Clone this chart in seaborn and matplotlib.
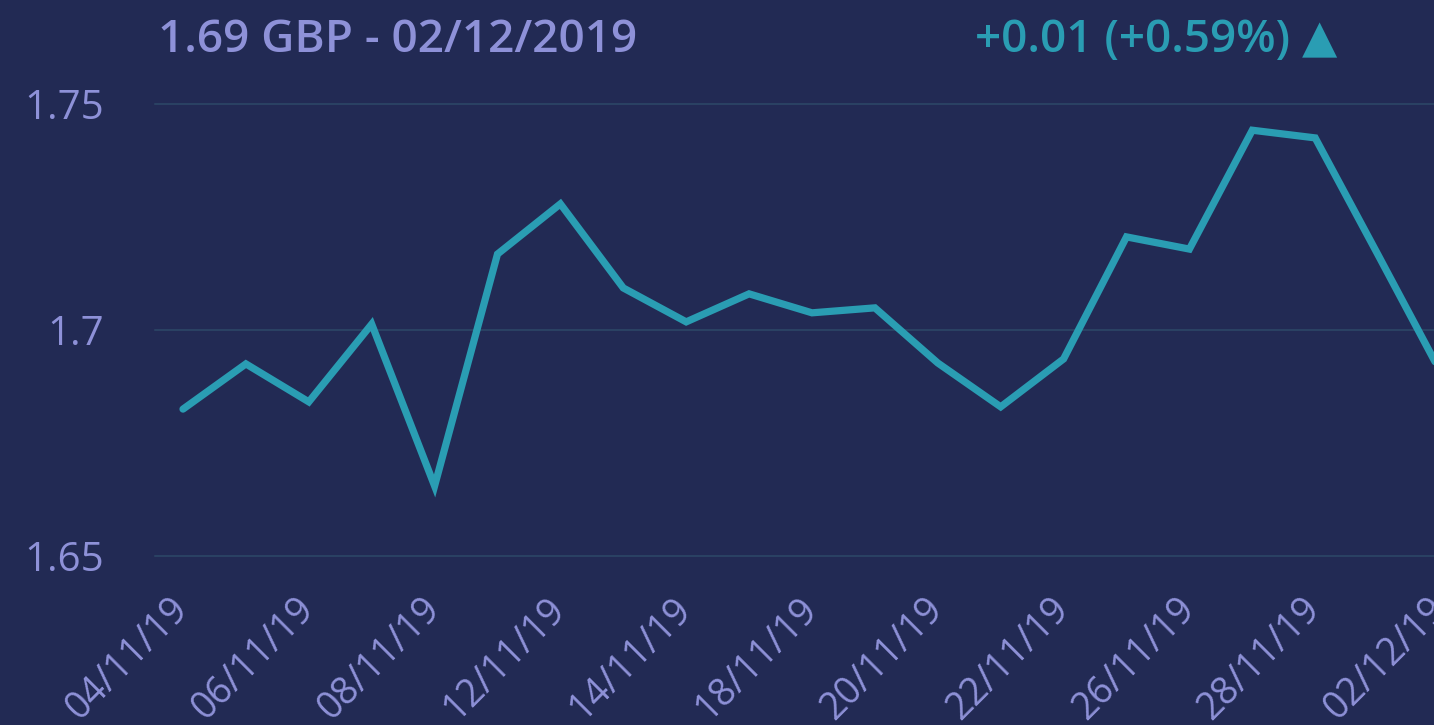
import matplotlib
matplotlib.use("Agg")
import matplotlib.pyplot as plt
import matplotlib.transforms as mtransforms
import seaborn as sns
import pandas as pd
import numpy as np

dates = ["04/11/19", "05/11/19", "06/11/19", "07/11/19", "08/11/19", "11/11/19",
         "12/11/19", "13/11/19", "14/11/19", "15/11/19", "18/11/19", "19/11/19",
         "20/11/19", "21/11/19", "22/11/19", "25/11/19", "26/11/19", "27/11/19",
         "28/11/19", "29/11/19", "02/12/19"]
prices = [1.6825, 1.6925, 1.6841, 1.7013, 1.6655, 1.7168, 1.7279, 1.7093,
          1.7018, 1.7080, 1.7038, 1.7049, 1.6927, 1.6830, 1.6936, 1.7206,
          1.7179, 1.7442, 1.7425, 1.7166, 1.6905]
yticks = [1.65, 1.70, 1.75]
ytick_labels = ["1.65", "1.7", "1.75"]
title_left = "1.69 GBP - 02/12/2019"
title_right = "+0.01 (+0.59%) ▲"

BG = "#222a54"
TEXT = "#8e91d8"
TEAL = "#2a9db3"
GRID = "#2a4163"

sns.set_theme(style="dark")
plt.rcParams["font.family"] = ["Open Sans", "DejaVu Sans"]

df = pd.DataFrame({"idx": np.arange(len(dates)), "price": prices})

W, H = 1434, 725
fig = plt.figure(figsize=(W / 100, H / 100), dpi=100, facecolor=BG)
left_px = 155
px_per_step = 62.9
x0_px = 183
xmin = -(x0_px - left_px) / px_per_step
xmax = 20.6
right_px = x0_px + xmax * px_per_step
top_px, bot_px = 104, 556
ax = fig.add_axes([left_px / W, 1 - bot_px / H, (right_px - left_px) / W, (bot_px - top_px) / H])
ax.set_facecolor(BG)

sns.lineplot(data=df, x="idx", y="price", ax=ax, color=TEAL, linewidth=5.2,
             solid_joinstyle="miter", solid_capstyle="round")

ax.set_xlim(xmin, xmax)
ax.set_ylim(1.65, 1.75)
ax.set_yticks(yticks)
ax.set_yticklabels(ytick_labels)
ax.set_xticks(np.arange(0, len(dates), 2))
ax.set_xticklabels(dates[::2], rotation=45, ha="right", rotation_mode="anchor")
ax.tick_params(axis="y", colors=TEXT, labelsize=29, length=0, pad=37)
ax.tick_params(axis="x", colors=TEXT, labelsize=27, length=0, pad=22)
shift = mtransforms.ScaledTranslation(-14 / 100, -4 / 100, fig.dpi_scale_trans)
for lbl in ax.get_xticklabels():
    lbl.set_transform(lbl.get_transform() + shift)
ax.set_xlabel("")
ax.set_ylabel("")
ax.grid(False)
for y in yticks:
    ax.axhline(y, color=GRID, linewidth=1.5, zorder=0, clip_on=False)
for s in ax.spines.values():
    s.set_visible(False)

fig.text(158 / W, 1 - 40 / H, title_left, color=TEXT, fontsize=33,
         ha="left", va="center", fontweight="semibold")
fig.text(1337 / W, 1 - 40 / H, title_right, color=TEAL, fontsize=33,
         ha="right", va="center", fontweight="semibold",
         family=["Open Sans", "DejaVu Sans"])

fig.savefig("out.png", dpi=100, facecolor=BG)
